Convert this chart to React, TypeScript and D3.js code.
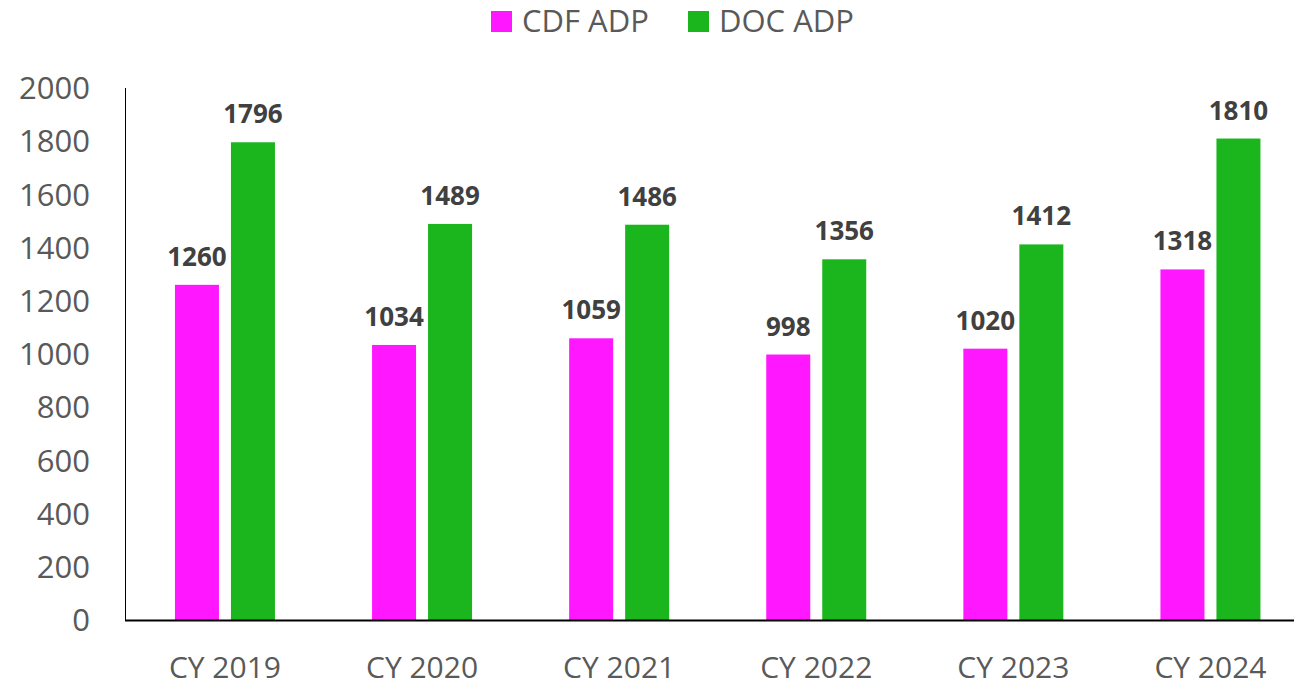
import React from "react";
import * as d3 from "d3";

const categories = ["CY 2019", "CY 2020", "CY 2021", "CY 2022", "CY 2023", "CY 2024"];
const seriesNames = ["CDF ADP", "DOC ADP"];
const cdfValues = [1260, 1034, 1059, 998, 1020, 1318];
const docValues = [1796, 1489, 1486, 1356, 1412, 1810];
const yTicks = [0, 200, 400, 600, 800, 1000, 1200, 1400, 1600, 1800, 2000];
const colors = ["#FF17FF", "#1BB61E"];

const W = 1294;
const H = 685;
const FONT = "'Open Sans', 'Liberation Sans', sans-serif";

export default function App() {
  const x = d3.scaleBand<string>().domain(categories).range([126.4, 1309]).paddingInner(0).paddingOuter(0);
  const sub = d3.scaleBand<string>().domain(seriesNames).range([-50, 50]).paddingInner(0.2143);
  const y = d3.scaleLinear().domain([0, 2000]).range([620, 88]);
  const series = [cdfValues, docValues];

  return (
    <svg width={W} height={H} style={{ position: "absolute", left: 0, top: 0, background: "#fff" }}>
      {/* legend */}
      {seriesNames.map((name, i) => {
        const lx = i === 0 ? 491 : 688;
        return (
          <g key={name}>
            <rect x={lx} y={11} width={21} height={21} fill={colors[i]} />
            <text x={lx + 31} y={32} fontFamily={FONT} fontSize={31} fill="#595959">
              {name}
            </text>
          </g>
        );
      })}

      {/* y tick labels */}
      {yTicks.map((t) => (
        <text
          key={t}
          x={90}
          y={y(t)}
          dy="0.36em"
          textAnchor="end"
          fontFamily={FONT}
          fontSize={31}
          fill="#595959"
        >
          {t}
        </text>
      ))}

      {/* bars */}
      {categories.map((c, ci) => {
        const cx = (x(c) as number) + x.bandwidth() / 2;
        return (
          <g key={c}>
            {series.map((vals, si) => {
              const bx = cx + (sub(seriesNames[si]) as number);
              const v = vals[ci];
              return (
                <g key={si}>
                  <rect x={bx} y={y(v)} width={sub.bandwidth()} height={y(0) - y(v)} fill={colors[si]} />
                  <text
                    x={bx + sub.bandwidth() / 2}
                    y={y(v) - 19}
                    textAnchor="middle"
                    fontFamily={FONT}
                    fontWeight="bold"
                    fontSize={26}
                    fill="#404040"
                  >
                    {v}
                  </text>
                </g>
              );
            })}
            <text x={cx} y={678} textAnchor="middle" fontFamily={FONT} fontSize={30} fill="#595959">
              {c}
            </text>
          </g>
        );
      })}

      {/* axes */}
      <line x1={125.5} x2={125.5} y1={y(2000)} y2={y(0)} stroke="#000" strokeWidth={1} />
      <line x1={125} x2={W} y1={620.5} y2={620.5} stroke="#000" strokeWidth={2} />
    </svg>
  );
}
